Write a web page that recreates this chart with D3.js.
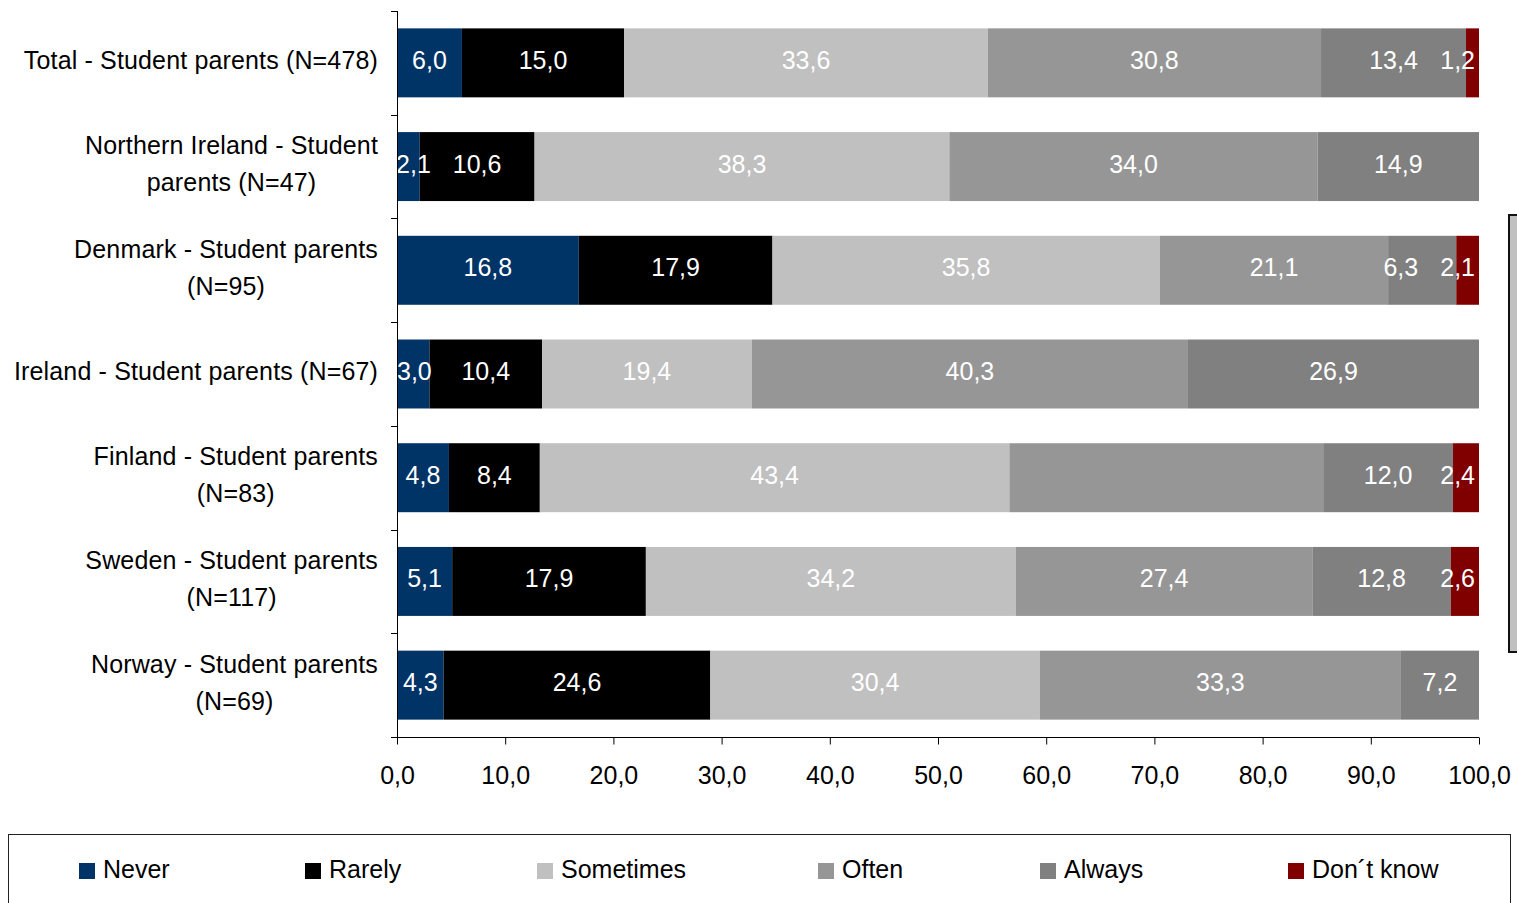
<!DOCTYPE html>
<html>
<head>
<meta charset="utf-8">
<script src="https://cdn.jsdelivr.net/npm/d3@7"></script>
<style>
  html, body { margin: 0; padding: 0; background: #fff; }
  svg { display: block; font-family: "Liberation Sans", Arial, sans-serif; }
</style>
</head>
<body>
<svg id="chart" width="1517" height="903"></svg>
<script>
// ---- Data ----
const categories = [
  ["Total - Student parents (N=478)"],
  ["Northern Ireland - Student", "parents (N=47)"],
  ["Denmark - Student parents", "(N=95)"],
  ["Ireland - Student parents (N=67)"],
  ["Finland - Student parents", "(N=83)"],
  ["Sweden - Student parents", "(N=117)"],
  ["Norway - Student parents", "(N=69)"]
];
const seriesNames = ["Never", "Rarely", "Sometimes", "Often", "Always", "Don\u00b4t know"];
const never     = [6.0, 2.1, 16.8, 3.0, 4.8, 5.1, 4.3];
const rarely    = [15.0, 10.6, 17.9, 10.4, 8.4, 17.9, 24.6];
const sometimes = [33.6, 38.3, 35.8, 19.4, 43.4, 34.2, 30.4];
const often     = [30.8, 34.0, 21.1, 40.3, 29.0, 27.4, 33.3];
const always    = [13.4, 14.9, 6.3, 26.9, 12.0, 12.8, 7.2];
const dontKnow  = [1.2, 0, 2.1, 0, 2.4, 2.6, 0];
const hiddenLabels = [[4, 3]]; // Finland / Often label not shown in the original
const xTicks = [0, 10, 20, 30, 40, 50, 60, 70, 80, 90, 100];
const colors = ["#003366", "#000000", "#C0C0C0", "#969696", "#808080", "#800000"];

const seriesValues = [never, rarely, sometimes, often, always, dontKnow];

// ---- Layout ----
const svg = d3.select("#chart");
const pLeft = 397, pRight = 1479, pTop = 11, pBottom = 737;
const FS = 25;

const x = d3.scaleLinear().domain([0, 100]).range([pLeft, pRight]);
const xs = d3.scaleLinear().domain([0, 1]).range([pLeft, pRight]); // 100% stacked
const y = d3.scaleBand().domain(d3.range(categories.length))
  .range([pTop, pBottom]).paddingInner(0.335).paddingOuter(0.1675);

const rows = categories.map((c, i) => {
  const d = { idx: i };
  seriesNames.forEach((s, k) => d[s] = seriesValues[k][i]);
  return d;
});
const stacked = d3.stack().keys(seriesNames).offset(d3.stackOffsetExpand)(rows);

// Bars
const gBars = svg.append("g");
stacked.forEach((layer, k) => {
  gBars.selectAll(null).data(layer.filter(d => d[1] - d[0] > 0)).enter()
    .append("rect")
    .attr("x", d => xs(d[0]))
    .attr("y", d => y(d.data.idx))
    .attr("width", d => xs(d[1]) - xs(d[0]))
    .attr("height", y.bandwidth())
    .attr("fill", colors[k]);
});

// Data labels
const gLab = svg.append("g").attr("font-size", FS).attr("fill", "#fff");
categories.forEach((c, i) => {
  const labs = [];
  stacked.forEach((layer, k) => {
    const d = layer[i];
    const v = seriesValues[k][i];
    if (v <= 0) return;
    if (hiddenLabels.some(h => h[0] === i && h[1] === k)) return;
    const t = gLab.append("text")
      .attr("text-anchor", "middle")
      .attr("dy", "0.36em")
      .attr("y", y(i) + y.bandwidth() / 2 - 3)
      .text(d3.format(".1f")(v).replace(".", ","));
    const w = t.node().getComputedTextLength();
    let cx = (xs(d[0]) + xs(d[1])) / 2;
    cx = Math.max(pLeft + w / 2, Math.min(pRight - 4 - w / 2, cx));
    labs.push({ t, w, cx });
  });
  for (let j = labs.length - 2; j >= 0; j--) {
    const a = labs[j], b = labs[j + 1];
    const maxCx = b.cx - b.w / 2 - 22 - a.w / 2;
    if (a.cx > maxCx) a.cx = maxCx;
  }
  labs.forEach(l => l.t.attr("x", l.cx));
});

// Y axis
const gY = svg.append("g").attr("stroke", "#000").attr("stroke-width", 1);
gY.append("line").attr("x1", pLeft + 0.5).attr("x2", pLeft + 0.5).attr("y1", pTop).attr("y2", pBottom);
const bounds = d3.range(categories.length + 1).map(i => pTop + i * y.step());
gY.selectAll(null).data(bounds).enter().append("line")
  .attr("x1", pLeft - 6).attr("x2", pLeft + 0.5)
  .attr("y1", d => Math.round(d) + 0.5).attr("y2", d => Math.round(d) + 0.5);

// Category labels
const gCat = svg.append("g").attr("font-size", FS).attr("fill", "#000")
  .attr("letter-spacing", "0.15px");
categories.forEach((lines, i) => {
  const cy = y(i) + y.bandwidth() / 2 - 3;
  const g = gCat.append("g");
  const texts = lines.map((ln, j) => g.append("text")
    .attr("text-anchor", "middle")
    .attr("dy", "0.36em")
    .attr("y", cy + (j - (lines.length - 1) / 2) * 37)
    .text(ln));
  const maxW = d3.max(texts, t => t.node().getComputedTextLength());
  texts.forEach(t => t.attr("x", 378 - maxW / 2));
});

// X axis
const xAxis = d3.axisBottom(x).tickValues(xTicks).tickSize(7).tickSizeOuter(0)
  .tickFormat(d => d3.format(".1f")(d).replace(".", ","));
const gX = svg.append("g").attr("transform", `translate(0,${pBottom + 0.5})`).call(xAxis);
gX.select(".domain").attr("d", `M${pLeft - 6},0H${pRight}`).attr("stroke", "#000");
gX.selectAll(".tick line").attr("stroke", "#000");
gX.selectAll(".tick text").attr("font-size", FS).attr("fill", "#000")
  .attr("font-family", "Liberation Sans, Arial, sans-serif")
  .attr("y", 37).attr("dy", "0.36em");

// Legend
svg.append("rect").attr("x", 8.5).attr("y", 834.5).attr("width", 1502).attr("height", 120)
  .attr("fill", "#fff").attr("stroke", "#222").attr("stroke-width", 1);
const legendX = [79, 305, 537, 818, 1040, 1288];
const gLeg = svg.append("g").attr("font-size", FS);
seriesNames.forEach((s, k) => {
  gLeg.append("rect").attr("x", legendX[k]).attr("y", 863).attr("width", 16).attr("height", 16)
    .attr("fill", colors[k]);
  gLeg.append("text").attr("x", legendX[k] + 24).attr("y", 869).attr("dy", "0.36em")
    .attr("fill", "#000").text(s);
});

// Partial frame at right edge
svg.append("rect").attr("x", 1509).attr("y", 215).attr("width", 30).attr("height", 437)
  .attr("fill", "#C0C0C0").attr("stroke", "#111").attr("stroke-width", 2);
</script>
</body>
</html>
